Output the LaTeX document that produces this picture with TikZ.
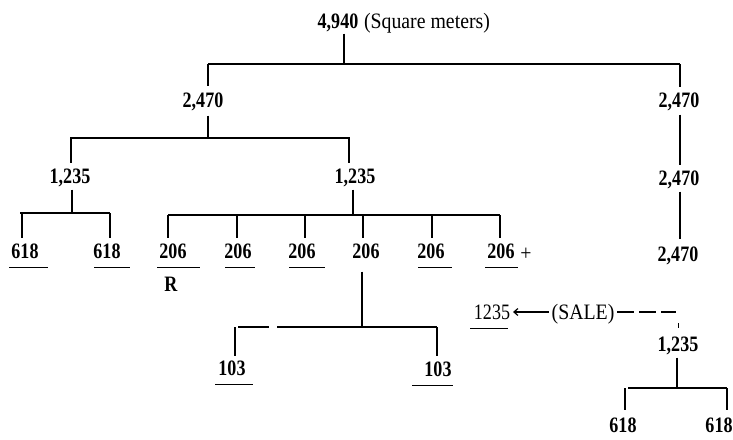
\documentclass[tikz,border=0pt]{standalone}
\usepackage{fontspec}
\setmainfont{Liberation Serif}
\newfontfamily\cond[FakeStretch=0.82]{Liberation Serif}
\newfontfamily\condw[FakeStretch=0.9]{Liberation Serif}
\usetikzlibrary{arrows.meta,calc}
\begin{document}
\begin{tikzpicture}[x=1pt,y=-1pt,
  num/.style={font=\cond\fontsize{22}{24}\selectfont\bfseries, inner sep=0pt, outer xsep=3pt, outer ysep=6pt, text height=15pt, text depth=0pt},
  numr/.style={num, font=\cond\fontsize{22}{24}\selectfont},
  word/.style={num, font=\condw\fontsize{22}{24}\selectfont},
  ln/.style={line width=1.4pt},
  ul/.style={line width=1.2pt}]
\useasboundingbox (0,0) rectangle (733,439);
\newcommand\ulin[3]{\draw[ul] ($(#1.base)+(#2,9)$) -- ($(#1.base)+(#3,9)$);}

% ---- nodes ----
\node[num]  (top)  at (338,21) {4,940};
\node[word] (sq)   at (427,21) {(Square meters)};
\node[num]  (a2470) at (203,100) {2,470};
\node[num]  (l1235) at (70,176) {1,235};
\node[num]  (m1235) at (355,176) {1,235};
\node[num]  (l618)  at (25,251) {618};
\node[num]  (r618)  at (107,251) {618};
\node[num]  (s1) at (173,251) {206};
\node[num]  (s2) at (238,251) {206};
\node[num]  (s3) at (302,251) {206};
\node[num]  (s4) at (366,251) {206};
\node[num]  (s5) at (431,251) {206};
\node[num]  (s6) at (501,251) {206};
\node[word] (plus) at (526,253) {+};
\node[num]  (R)  at (171,284) {R};
\node[num]  (h1) at (232,368) {103};
\node[num]  (h2) at (438,369) {103};
\node[num]  (r1) at (679,100) {2,470};
\node[num]  (r2) at (679,178) {2,470};
\node[num]  (r3) at (678,254) {2,470};
\node[numr] (b1235) at (492,312) {1235};
\node[word] (sale) at (583,312) {(SALE)};
\node[num]  (q1235) at (678,344) {1,235};
\node[num]  (q618a) at (623,425) {618};
\node[num]  (q618b) at (719,425) {618};

% ---- bus coordinates ----
\coordinate (busA-l) at (208,64);  \coordinate (busA-r) at (680,64);
\coordinate (busB-l) at (70,138);  \coordinate (busB-r) at (350,138);
\coordinate (busC-l) at (20,213);  \coordinate (busC-r) at (110,213);
\coordinate (busD-l) at (168,215); \coordinate (busD-r) at (500,215);
\coordinate (busE-a) at (238,327); \coordinate (busE-b) at (269,327);
\coordinate (busE-c) at (277,327); \coordinate (busE-d) at (437,327);
\coordinate (busF-l) at (628,388); \coordinate (busF-r) at (727,388);
\coordinate (saleEnd) at (676,312);

% ---- buses ----
\draw[ln] (busA-l) -- (busA-r);
\draw[ln] (busB-l) -- (busB-r);
\draw[ln] (busC-l) -- (busC-r);
\draw[ln] (busD-l) -- (busD-r);
\draw[ln] (busE-a) -- (busE-b);
\draw[ln] (busE-c) -- (busE-d);
\draw[ln] (busF-l) -- (busF-r);

% ---- verticals ----
\draw[ln] ([xshift=6pt,yshift=1pt]top.south) -- ([xshift=6pt]top.south |- busA-l);
\draw[ln] (busA-l) -- ([xshift=5pt,yshift=1pt]a2470.north);
\draw[ln] ([xshift=5pt,yshift=-2pt]a2470.south) -- ([xshift=5pt]a2470.south |- busB-l);
\draw[ln] ([xshift=1pt]l1235.north |- busB-l) -- ([xshift=1pt]l1235.north);
\draw[ln] ([xshift=-6pt]m1235.north |- busB-l) -- ([xshift=-6pt]m1235.north);
\draw[ln] ([xshift=2pt]l1235.south) -- ([xshift=2pt]l1235.south |- busC-l);
\draw[ln] ([xshift=-2pt]m1235.south) -- ([xshift=-2pt]m1235.south |- busD-l);
\draw[ln] ([xshift=-3pt]l618.north |- busC-l) -- ([xshift=-3pt]l618.north);
\draw[ln] ([xshift=3pt]r618.north |- busC-r) -- ([xshift=3pt]r618.north);
\draw[ln] ([xshift=-5pt]s1.north |- busD-l) -- ([xshift=-5pt]s1.north);
\draw[ln] ([xshift=-1pt]s2.north |- busD-l) -- ([xshift=-1pt]s2.north);
\draw[ln] ([xshift=3pt]s3.north |- busD-l) -- ([xshift=3pt]s3.north);
\draw[ln] ([xshift=-3pt]s4.north |- busD-l) -- ([xshift=-3pt]s4.north);
\draw[ln] ([xshift=1pt]s5.north |- busD-l) -- ([xshift=1pt]s5.north);
\draw[ln] ([xshift=-1pt]s6.north |- busD-l) -- ([xshift=-1pt]s6.north);
\draw[ln] ([xshift=-4pt,yshift=-7pt]s4.south) -- ([xshift=-4pt]s4.south |- busE-c);
\draw[ln] ([xshift=3pt]h1.north |- busE-a) -- ([xshift=3pt,yshift=-1pt]h1.north);
\draw[ln] (busE-d) -- ([xshift=-1pt]h2.north);
\draw[ln] (busA-r) -- ([xshift=1pt]r1.north);
\draw[ln] ([xshift=1pt,yshift=-1pt]r1.south) -- ([xshift=1pt]r2.north);
\draw[ln] ([xshift=1pt]r2.south) -- ([xshift=2pt,yshift=2pt]r3.north);
\draw[line width=0.9pt] ([yshift=3pt]q1235.north) -- ++(0,-5);
\draw[ln] ([xshift=-1pt]q1235.south) -- ([xshift=-1pt]q1235.south |- busF-l);
\draw[ln] ([xshift=2pt]q618a.north |- busF-l) -- ([xshift=2pt,yshift=2pt]q618a.north);
\draw[ln] (busF-r) -- ([xshift=8pt,yshift=2pt]q618b.north);

% ---- sale ----
\draw[line width=1.2pt,-{Straight Barb[length=4pt,width=7pt]}] (sale.west) -- (b1235.east);
\draw[line width=1.4pt,dash pattern=on 17pt off 5pt] (sale.east) -- (saleEnd);

% ---- underlines ----
\ulin{l618}{-16}{23}
\ulin{r618}{-13}{23}
\ulin{s1}{-16}{27}
\ulin{s2}{-13}{17}
\ulin{s3}{-13}{23}
\ulin{s5}{-13}{21}
\ulin{s6}{-16}{17}
\ulin{h1}{-17}{21}
\ulin{h2}{-26}{15}
\ulin{b1235}{-22}{16}
\end{tikzpicture}
\end{document}
